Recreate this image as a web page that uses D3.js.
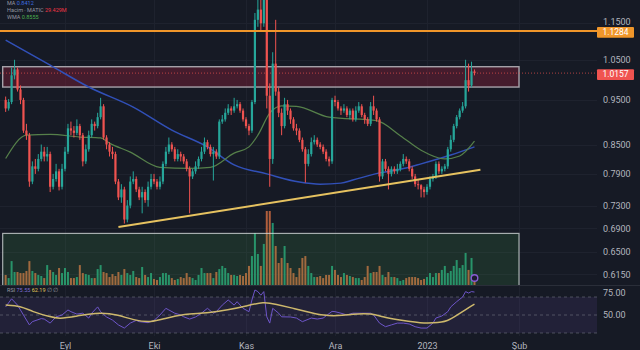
<!DOCTYPE html>
<html><head><meta charset="utf-8">
<script src="https://cdn.jsdelivr.net/npm/d3@7"></script>
<style>
html,body{margin:0;padding:0;background:#161a25;}
svg{display:block;}
text{font-family:Roboto,"Noto Sans",sans-serif;}
</style></head><body>
<svg id="c" width="640" height="350"></svg>
<script>
// ---------- data ----------
const startDate = "2022-08-12";
const firstOpen = 0.95;
const closes = [0.93,0.945,1.01,1.025,0.975,0.95,0.88,0.87,0.775,0.805,
 0.80,0.82,0.835,0.825,0.83,0.765,0.78,0.795,0.765,0.80,
 0.835,0.885,0.88,0.875,0.89,0.87,0.815,0.84,0.87,0.895,
 0.89,0.91,0.935,0.865,0.85,0.835,0.83,0.775,0.745,0.76,
 0.705,0.73,0.775,0.78,0.76,0.745,0.755,0.74,0.765,0.78,
 0.775,0.765,0.775,0.81,0.835,0.85,0.84,0.82,0.83,0.825,
 0.815,0.80,0.785,0.795,0.805,0.82,0.835,0.855,0.845,0.83,
 0.835,0.825,0.90,0.905,0.92,0.93,0.925,0.935,0.94,0.925,
 0.905,0.89,0.88,0.945,1.16,1.19,1.15,1.22,0.96,0.82,
 1.04,0.97,0.92,0.89,0.94,0.925,0.905,0.885,0.88,0.86,
 0.84,0.81,0.83,0.855,0.86,0.85,0.845,0.835,0.82,0.815,
 0.95,0.945,0.93,0.925,0.93,0.915,0.925,0.905,0.925,0.935,
 0.915,0.905,0.895,0.935,0.925,0.905,0.785,0.815,0.80,0.79,
 0.80,0.795,0.80,0.81,0.82,0.815,0.80,0.785,0.77,0.768,
 0.76,0.755,0.765,0.78,0.785,0.81,0.795,0.80,0.805,0.84,
 0.86,0.89,0.91,0.925,0.935,0.998,0.985,1.02,1.0157];
const highs = [0.958,0.952,1.03,1.05,1.03,0.985,0.955,0.895,0.875,0.815,
 0.82,0.83,0.85,0.845,0.845,0.835,0.79,0.81,0.80,0.81,
 0.845,0.895,0.90,0.89,0.905,0.895,0.875,0.85,0.88,0.905,
 0.90,0.92,0.955,0.94,0.87,0.855,0.845,0.835,0.78,0.77,
 0.765,0.74,0.785,0.795,0.785,0.765,0.765,0.76,0.775,0.79,
 0.79,0.78,0.785,0.815,0.845,0.865,0.855,0.845,0.84,0.835,
 0.83,0.82,0.805,0.80,0.815,0.825,0.845,0.865,0.86,0.85,
 0.845,0.84,0.905,0.915,0.93,0.94,0.935,0.955,0.95,0.945,
 0.93,0.91,0.895,0.95,1.18,1.22,1.22,1.30,1.25,0.99,
 1.07,1.16,0.98,0.93,0.955,0.95,0.93,0.91,0.895,0.885,
 0.865,0.845,0.84,0.865,0.87,0.865,0.855,0.85,0.84,0.825,
 0.955,0.96,0.95,0.935,0.94,0.935,0.93,0.93,0.935,0.945,
 0.94,0.92,0.91,0.945,0.96,0.93,0.91,0.82,0.82,0.805,
 0.805,0.805,0.81,0.815,0.83,0.825,0.82,0.805,0.79,0.78,
 0.77,0.765,0.77,0.785,0.79,0.815,0.815,0.805,0.81,0.845,
 0.87,0.895,0.915,0.93,0.945,1.05,1.04,1.045,1.025];
const lows = [0.922,0.925,0.94,1.0,0.97,0.94,0.875,0.86,0.765,0.77,
 0.79,0.795,0.815,0.815,0.815,0.755,0.76,0.775,0.758,0.76,
 0.795,0.83,0.87,0.865,0.87,0.86,0.805,0.81,0.835,0.865,
 0.88,0.885,0.905,0.86,0.84,0.825,0.82,0.77,0.74,0.735,
 0.698,0.70,0.725,0.77,0.755,0.74,0.716,0.735,0.728,0.76,
 0.77,0.76,0.76,0.77,0.805,0.83,0.835,0.815,0.815,0.815,
 0.81,0.795,0.716,0.78,0.79,0.80,0.815,0.83,0.84,0.825,
 0.777,0.82,0.82,0.895,0.90,0.915,0.915,0.92,0.93,0.92,
 0.90,0.885,0.87,0.875,0.94,1.14,1.13,1.14,0.93,0.765,
 0.81,0.96,0.91,0.87,0.885,0.915,0.895,0.88,0.87,0.855,
 0.835,0.773,0.805,0.825,0.85,0.845,0.84,0.83,0.815,0.805,
 0.81,0.935,0.925,0.915,0.92,0.91,0.905,0.90,0.90,0.92,
 0.91,0.895,0.89,0.89,0.915,0.90,0.775,0.78,0.795,0.76,
 0.785,0.79,0.79,0.795,0.805,0.81,0.795,0.78,0.765,0.76,
 0.745,0.745,0.75,0.76,0.775,0.78,0.79,0.79,0.795,0.80,
 0.835,0.855,0.885,0.905,0.92,0.93,0.97,0.98,1.01];
const volumes = [58,40,138,75,75,69,69,81,138,81,
 69,58,52,40,115,87,75,58,98,69,
 98,75,40,40,46,115,69,63,58,40,
 40,92,115,75,69,46,63,52,75,58,
 92,69,58,81,46,40,104,58,46,69,
 35,29,46,69,69,58,40,29,35,46,
 40,69,46,40,29,58,98,69,69,69,
 40,75,92,110,98,69,58,58,52,58,
 52,69,110,167,300,179,110,237,427,427,
 358,225,127,156,225,127,98,69,46,98,
 156,167,110,69,46,46,52,40,58,58,
 110,87,58,46,69,58,52,46,40,40,
 29,46,110,69,75,75,110,58,46,75,
 46,46,40,23,29,40,46,46,46,40,
 29,35,46,69,46,69,69,87,110,69,
 81,110,144,98,115,185,87,156,29];
// [candle index, value]
const maPts = [[0,1.103],[15,1.036],[28,0.981],[43,0.933],[56,0.881],[68,0.845],[77,0.808],[88,0.790],[99,0.774],[106,0.770],[113,0.772],[117,0.778],[126,0.792],[133,0.799],[140,0.810],[150,0.828],[158,0.845]];
const wmaPts = [[0,0.821],[7,0.870],[15,0.872],[25,0.866],[32,0.864],[35,0.853],[42,0.834],[52,0.803],[62,0.801],[69,0.803],[77,0.832],[82,0.845],[85,0.870],[89,0.919],[93,0.936],[98,0.935],[109,0.910],[125,0.902],[133,0.869],[140,0.838],[148,0.820],[153,0.826],[158,0.857]];
const rsiPts = [[0,59],[2,68],[4,61],[6,50],[8,39],[9,42.6],[12,46],[13,45.5],[15,41],[17,48],[19,50],[21,55.6],[22,53.7],[24,51],[26,52],[28,46.6],[29,52],[31,59],[32,53.7],[34,47.8],[36,44.4],[38,39],[40,35.5],[42,41],[44,44],[45,42.6],[48,41.5],[50,44],[52,50],[54,57.4],[55,55.6],[57,52],[59,50],[60,48],[62,45.5],[64,47.8],[66,52],[68,57.4],[70,52],[71,53.7],[73,61],[75,66.7],[77,61],[78,64.8],[80,57.4],[82,53.7],[83,66.7],[84,77.8],[85,76],[86,72],[87,76],[88,48],[89,41],[90,57.4],[92,52],[93,48],[96,47.8],[98,46.6],[100,42.6],[103,46.6],[105,45.5],[107,46.6],[110,54],[111,53.7],[113,52],[115,50],[117,52],[120,52],[123,52],[124,50],[126,41],[128,37],[130,39],[132,41],[134,41],[136,40],[138,37],[140,35.5],[142,35.5],[144,41],[145,46.6],[147,48.9],[149,53.7],[150,59],[152,64.8],[154,70],[155,76],[156,74.4],[157,76],[158,75.5]];
const rsiMaPts = [[0,61],[5,60],[9,53.7],[15,48],[18,45.5],[24,48.9],[32,53.3],[38,50],[43,44.4],[49,41.5],[54,46.6],[60,51],[68,52],[75,55.6],[81,60],[87,64.8],[91,62],[97,57.4],[103,52.5],[107,49.5],[112,49],[117,51],[123,52],[128,47],[134,43.7],[140,41],[144,41],[149,42.6],[153,52],[158,62.2]];
const priceTicks = [1.15,1.05,0.95,0.85,0.79,0.73,0.69,0.65,0.615];
const rsiTicks = [75,50];
const rsiLevels = [70,50,30];
const monthTicks = ["2022-09-01","2022-10-01","2022-11-01","2022-12-01","2023-01-01","2023-02-01"];
const monthLabels = ["Eyl","Eki","Kas","Ara","2023","Şub"];
const resistance = 1.1284;
const lastPrice = 1.0157;
const zoneDates = ["2022-08-11","2023-02-01"];
const zonePrices = [1.032,0.981];
const volBoxDates = ["2022-08-11","2023-02-01"];
const volBoxPrices = [0.681,0.595];
const trendDates = ["2022-09-19","2023-01-19"];
const trendPrices = [0.692,0.798];
const legendRows = [["MA","0.8412"],["Hacim · MATIC","29.429M"],["WMA","0.8555"]];
const rsiLegend = ["RSI","75.55","62.19","∅ ∅"];

// ---------- drawing ----------
const W=640,H=350,PR=597;
const parse = s => new Date(s+"T00:00:00Z");
const svg = d3.select("#c");
svg.append("rect").attr("width",W).attr("height",H).attr("fill","#161a25");
const defs = svg.append("defs");
defs.append("clipPath").attr("id","pp").append("rect").attr("x",0).attr("y",0).attr("width",PR).attr("height",285);

const x = d3.scaleUtc().domain([parse("2022-09-01"),parse("2023-02-01")]).range([65,519]);
const y = d3.scaleLog().domain([1.15,0.615]).range([23.3,274.3]);
const vy = d3.scaleLinear().domain([0,300]).range([285,233]);
const ry = d3.scaleLinear().domain([30,70]).range([333,297]);
const start = parse(startDate);
const dOf = i => d3.utcDay.offset(start,i);
const candles = closes.map((c,i)=>({d:dOf(i),o:i?closes[i-1]:firstOpen,h:highs[i],l:lows[i],c:c,v:volumes[i]}));

// grid
const grid = svg.append("g");
grid.selectAll("line.h").data(priceTicks).join("line")
  .attr("x1",0).attr("x2",PR).attr("y1",d=>Math.round(y(d))+0.5).attr("y2",d=>Math.round(y(d))+0.5)
  .attr("stroke","#1e222e").attr("stroke-width",1);
grid.selectAll("line.v").data(monthTicks).join("line")
  .attr("x1",d=>Math.round(x(parse(d)))+0.5).attr("x2",d=>Math.round(x(parse(d)))+0.5)
  .attr("y1",0).attr("y2",336).attr("stroke","#1e222e").attr("stroke-width",1);

const pane = svg.append("g").attr("clip-path","url(#pp)");

// volume bars
pane.append("g").selectAll("rect").data(candles).join("rect")
  .attr("x",d=>x(d.d)-1).attr("width",2)
  .attr("y",d=>vy(d.v)).attr("height",d=>285-vy(d.v))
  .attr("fill",d=>d.c>=d.o?"#23906f":"#b15e3c");
// volume box (rectangle drawing)
pane.append("rect")
  .attr("x",x(parse(volBoxDates[0]))).attr("width",x(parse(volBoxDates[1]))-x(parse(volBoxDates[0])))
  .attr("y",y(volBoxPrices[0])).attr("height",y(volBoxPrices[1])-y(volBoxPrices[0]))
  .attr("fill","rgba(76,175,80,0.15)").attr("stroke","rgba(215,220,220,0.75)").attr("stroke-width",1.2);

// red zone
pane.append("rect")
  .attr("x",x(parse(zoneDates[0]))).attr("width",x(parse(zoneDates[1]))-x(parse(zoneDates[0])))
  .attr("y",y(zonePrices[0])).attr("height",y(zonePrices[1])-y(zonePrices[0]))
  .attr("fill","rgba(135,32,58,0.42)").attr("stroke","#a6a3ab").attr("stroke-width",1.4);

// last price dotted line
pane.append("line").attr("x1",0).attr("x2",PR).attr("y1",y(lastPrice)).attr("y2",y(lastPrice))
  .attr("stroke","#ef5350").attr("stroke-opacity",0.7).attr("stroke-dasharray","1,2");

// MA lines
const pl = d3.line().x(p=>x(dOf(p[0]))).y(p=>y(p[1])).curve(d3.curveMonotoneX);
pane.append("path").attr("d",pl(maPts)).attr("fill","none").attr("stroke","#3150b8").attr("stroke-width",1.5);
pane.append("path").attr("d",pl(wmaPts)).attr("fill","none").attr("stroke","#56804a").attr("stroke-width",1.2);

// candles
const cg = pane.append("g");
cg.selectAll("rect.w").data(candles).join("rect")
  .attr("x",d=>x(d.d)-0.5).attr("width",1)
  .attr("y",d=>y(d.h)).attr("height",d=>y(d.l)-y(d.h))
  .attr("fill",d=>d.c>=d.o?"#26a69a":"#ef5350");
cg.selectAll("rect.b").data(candles).join("rect")
  .attr("x",d=>x(d.d)-1.1).attr("width",2.2)
  .attr("y",d=>y(Math.max(d.o,d.c))).attr("height",d=>Math.max(1,Math.abs(y(d.o)-y(d.c))))
  .attr("fill",d=>d.c>=d.o?"#26a69a":"#ef5350");

// resistance line
pane.append("line").attr("x1",0).attr("x2",PR).attr("y1",y(resistance)).attr("y2",y(resistance))
  .attr("stroke","#f0962a").attr("stroke-width",2);
// trend line
pane.append("line")
  .attr("x1",x(parse(trendDates[0]))).attr("y1",y(trendPrices[0]))
  .attr("x2",x(parse(trendDates[1]))).attr("y2",y(trendPrices[1]))
  .attr("stroke","#e6c260").attr("stroke-width",2);

// marker
svg.append("circle").attr("cx",x(dOf(closes.length-1))).attr("cy",278).attr("r",3.3)
  .attr("fill","#1d1a30").attr("stroke","#8a5cd6").attr("stroke-width",1.4);

// pane separator
svg.append("line").attr("x1",0).attr("x2",W).attr("y1",285.5).attr("y2",285.5).attr("stroke","#2a2e39");

// RSI pane
svg.append("rect").attr("x",0).attr("width",PR).attr("y",ry(70)).attr("height",ry(30)-ry(70))
  .attr("fill","rgba(126,87,194,0.12)");
svg.append("g").selectAll("line").data(rsiLevels).join("line")
  .attr("x1",0).attr("x2",PR).attr("y1",d=>ry(d)).attr("y2",d=>ry(d))
  .attr("stroke","#787b86").attr("stroke-opacity",0.55).attr("stroke-dasharray","3,3");
const rl = d3.line().x(p=>x(dOf(p[0]))).y(p=>ry(p[1]));
svg.append("path").attr("d",rl(rsiPts)).attr("fill","none").attr("stroke","#6d55c8").attr("stroke-width",1);
svg.append("path").attr("d",rl.curve(d3.curveBasis)(rsiMaPts)).attr("fill","none").attr("stroke","#cdb86c").attr("stroke-width",1.5);

// axes
const styleAxis = g => { g.select(".domain").remove(); g.selectAll("text").attr("fill","#b2b5be").attr("font-size",9).attr("font-family","Roboto, sans-serif"); };
const pax = svg.append("g").attr("transform","translate(600,0)")
  .call(d3.axisRight(y).tickValues(priceTicks).tickFormat(d3.format(".4f")).tickSize(0).tickPadding(3)).call(styleAxis);
// the top label sits just above the resistance tag
pax.selectAll(".tick text").filter(d=>d===priceTicks[0]).attr("dy","0.1em");
svg.append("g").attr("transform","translate(600,0)")
  .call(d3.axisRight(ry).tickValues(rsiTicks).tickFormat(d3.format(".2f")).tickSize(0).tickPadding(3)).call(styleAxis);
svg.append("g").attr("transform","translate(0,340)")
  .call(d3.axisBottom(x).tickValues(monthTicks.map(parse)).tickFormat((d,i)=>monthLabels[i]).tickSize(0).tickPadding(3)).call(styleAxis);

// price tags
function tag(v,fill){
  const cy = y(v)+1;
  svg.append("rect").attr("x",597).attr("y",cy-4.8).attr("width",37).attr("height",10.6).attr("fill",fill).attr("rx",1);
  svg.append("text").attr("x",615.5).attr("y",cy+0.6).attr("text-anchor","middle").attr("dominant-baseline","middle")
    .attr("fill","#ffffff").attr("font-size",8.5).text(d3.format(".4f")(v));
}
tag(resistance,"#f0962a");
tag(lastPrice,"#f05350");

// legends
const legColors = ["#3d6ee0","#f23645","#4caf50"];
const lg = svg.append("g").attr("font-size",5.5);
legendRows.forEach((r,i)=>{
  const t = lg.append("text").attr("x",7).attr("y",4.5+i*7.2).attr("fill","#9598a1");
  t.append("tspan").text(r[0]+" ");
  t.append("tspan").attr("fill",legColors[i]).text(r[1]);
});
const rg = svg.append("text").attr("x",7).attr("y",292).attr("font-size",5.5).attr("fill","#9598a1");
rg.append("tspan").text(rsiLegend[0]+" ");
rg.append("tspan").attr("fill","#7e6ad0").text(rsiLegend[1]+" ");
rg.append("tspan").attr("fill","#e0c85a").text(rsiLegend[2]+" ");
rg.append("tspan").text(rsiLegend[3]);
</script>
</body></html>
